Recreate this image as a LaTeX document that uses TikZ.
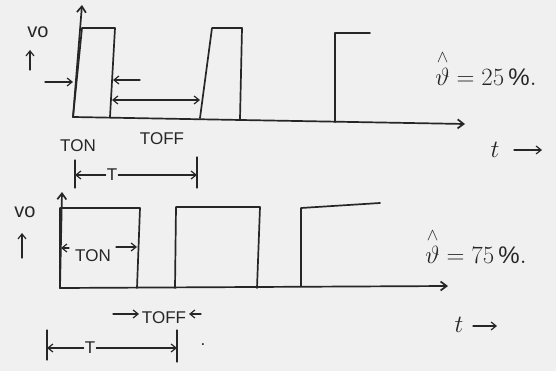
\documentclass[tikz,border=0pt]{standalone}
\usepackage{amsmath}
\usepackage{fontspec}
\setmainfont{Liberation Sans}
\usetikzlibrary{arrows.meta}
\begin{document}
\begin{tikzpicture}[x=1pt,y=-1pt,
  ink/.style={draw=black!85, line width=1.7pt, line join=round, line cap=round},
  thin ink/.style={draw=black!85, line width=1.2pt, line cap=round},
  arr/.style={thin ink, -{Straight Barb[length=5pt,width=8pt]}},
  darr/.style={thin ink, {Straight Barb[length=5pt,width=8pt]}-{Straight Barb[length=5pt,width=8pt]}},
  axarr/.style={ink, -{Straight Barb[length=6pt,width=9pt]}},
  lbl/.style={font=\fontsize{17}{19}\selectfont, text=black!85, inner sep=1pt},
  vlbl/.style={font=\fontsize{20}{22}\selectfont, text=black!85, inner sep=1pt},
  big/.style={font=\fontsize{24}{28}\selectfont, text=black!85, inner sep=1pt}]
\fill[black!6] (0,0) rectangle (556,371);
\useasboundingbox (0,0) rectangle (556,371);

% ---------- top waveform (25 %) ----------
\coordinate (a0) at (73,117);
\coordinate (a1) at (82,5);
\coordinate (b1) at (465,124);
\draw[axarr] (a0) -- (a1);
\draw[axarr] (a0) -- (b1);
\draw[ink] (a0) -- (82,28) -- (115,28) -- (110,117);
\draw[ink] (200,118) -- (212,28) -- (242,28) -- (240,119);
\draw[ink] (335,122) -- (335,33) -- (370,33);

\node[vlbl] (vo1) at (38,32) {vo};
\coordinate (u1a) at (30,70); \coordinate (u1b) at (30,50);
\draw[arr] (u1a) -- (u1b);

\coordinate (p1a) at (45,82);  \coordinate (p1b) at (73,82);
\draw[arr] (p1a) -- (p1b);
\coordinate (p2a) at (140,80); \coordinate (p2b) at (113,80);
\draw[arr] (p2a) -- (p2b);
\coordinate (p3a) at (112,100); \coordinate (p3b) at (200,100);
\draw[darr] (p3a) -- (p3b);

\node[lbl] (ton1) at (78,146) {TON};
\node[lbl] (toff1) at (162,139) {TOFF};

\coordinate (t1l) at (75,160); \coordinate (t1lb) at (75,188);
\coordinate (t1r) at (197,157); \coordinate (t1rb) at (197,188);
\draw[thin ink] (t1l) -- (t1lb);
\draw[thin ink] (t1r) -- (t1rb);
\node[lbl] (T1) at (112,175) {T};
\draw[arr] (T1.west) -- (t1l |- T1.west);
\draw[arr] (T1.east) -- (t1r |- T1.east);

\node[big] (d1) at (486,68) {$\overset{\wedge}{\vartheta}=25\,\%.$};
\node[big] (tt1) at (495,150) {$t$};
\coordinate (ta1s) at (514,150); \coordinate (ta1) at (542,150);
\draw[arr] (ta1s) -- (ta1);

% ---------- bottom waveform (75 %) ----------
\coordinate (c0) at (60,288);
\coordinate (c1) at (62,192);
\coordinate (e1) at (448,286);
\draw[axarr] (c0) -- (c1);
\draw[axarr] (c0) -- (e1);
\draw[ink] (c0) -- (60,208) -- (140,208) -- (137,288);
\draw[ink] (175,288) -- (176,207) -- (260,207) -- (257,288);
\draw[ink] (301,286) -- (301,208) -- (380,203);

\node[vlbl] (vo2) at (25,212) {vo};
\coordinate (u2a) at (22,258); \coordinate (u2b) at (22,233);
\draw[arr] (u2a) -- (u2b);

\node[lbl] (ton2) at (93,256) {TON};
\coordinate (q1s) at (69,248); \coordinate (q1) at (61,248);
\coordinate (q2s) at (116,247); \coordinate (q2) at (137,247);
\draw[arr] (q1s) -- (q1);
\draw[arr] (q2s) -- (q2);

\node[lbl] (toff2) at (164,318) {TOFF};
\coordinate (r1) at (113,314); \coordinate (r1e) at (139,314);
\coordinate (r2) at (201,314); \coordinate (r2e) at (189,314);
\draw[arr] (r1) -- (r1e);
\draw[arr] (r2) -- (r2e);

\coordinate (t2l) at (47,330); \coordinate (t2lb) at (47,360);
\coordinate (t2r) at (177,330); \coordinate (t2rb) at (177,362);
\draw[thin ink] (t2l) -- (t2lb);
\draw[thin ink] (t2r) -- (t2rb);
\node[lbl] (T2) at (90,348) {T};
\draw[arr] (T2.west) -- (t2l |- T2.west);
\draw[arr] (T2.east) -- (t2r |- T2.east);
\node[lbl] (dot2) at (203,345) {.};

\node[big] (d2) at (476,246) {$\overset{\wedge}{\vartheta}=75\,\%.$};
\node[big] (tt2) at (459,325) {$t$};
\coordinate (ta2s) at (473,326); \coordinate (ta2) at (497,326);
\draw[arr] (ta2s) -- (ta2);
\end{tikzpicture}
\end{document}
